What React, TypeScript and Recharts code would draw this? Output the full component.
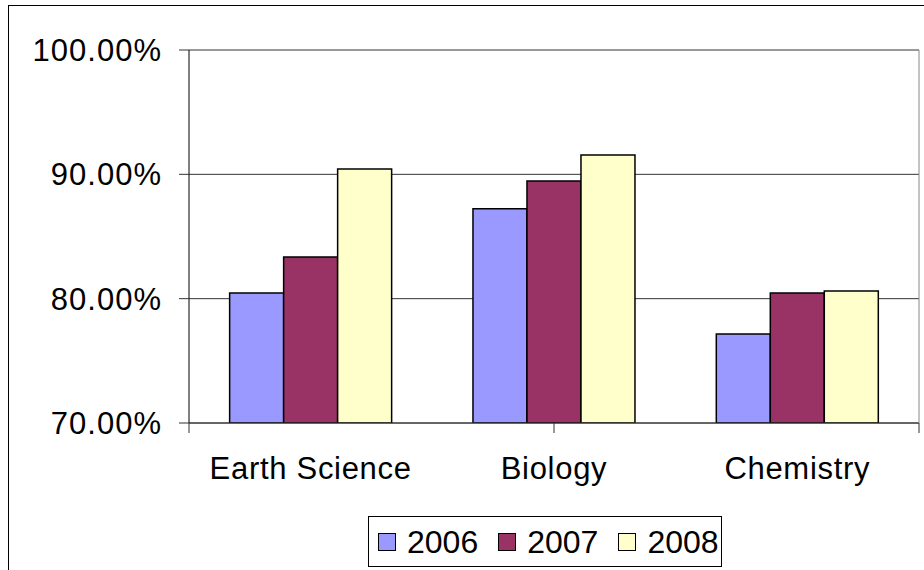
import React from "react";
import { BarChart, Bar, XAxis, YAxis, CartesianGrid, Legend } from "recharts";

const categories = ["Earth Science", "Biology", "Chemistry"];
const series2006 = [80.46, 87.24, 77.16];
const series2007 = [83.35, 89.47, 80.46];
const series2008 = [90.43, 91.56, 80.62];
const yTicks = [70, 80, 90, 100];
const boundaryTicks = [0, 1, 2, 3];
const seriesNames = ["2006", "2007", "2008"];
const seriesColors = ["#9999FF", "#993366", "#FFFFCC"];

const data = categories.map((c, i) => ({
  name: c,
  "2006": series2006[i],
  "2007": series2007[i],
  "2008": series2008[i],
}));

const FONT = "'Liberation Sans', Arial, sans-serif";

const LegendBox = () => (
  <div
    style={{
      border: "1px solid #000",
      background: "#fff",
      display: "flex",
      alignItems: "center",
      height: 49,
      padding: "0 0 0 9px",
      width: 343,
      fontFamily: FONT,
      fontSize: 32,
      color: "#000",
      boxSizing: "content-box",
      overflow: "visible",
    }}
  >
    {seriesNames.map((n, i) => (
      <div
        key={n}
        style={{ display: "flex", alignItems: "center", marginRight: i < seriesNames.length - 1 ? 20 : 0 }}
      >
        <div
          style={{
            width: 16,
            height: 16,
            border: "1px solid #000",
            background: seriesColors[i],
            marginRight: 11,
            flexShrink: 0,
          }}
        />
        <span style={{ lineHeight: "32px", whiteSpace: "nowrap" }}>{n}</span>
      </div>
    ))}
  </div>
);

const EmptyTick = () => <g />;

export default function App() {
  return (
    <div style={{ position: "absolute", left: 0, top: 0, width: 924, height: 570, background: "#fff" }}>
      <div
        style={{
          position: "absolute",
          left: 8,
          top: 5,
          width: 916,
          height: 565,
          borderLeft: "1px solid #000",
          borderTop: "1px solid #000",
          boxSizing: "border-box",
        }}
      />
      <div style={{ position: "absolute", left: 0, top: 0 }}>
        <BarChart
          width={924}
          height={570}
          data={data}
          margin={{ top: 50, right: 0, left: 0, bottom: 35 }}
          barGap={0}
          barCategoryGap="16.7%"
        >
          <CartesianGrid vertical={false} xAxisId="z" stroke="#333" strokeWidth={1} />
          <XAxis
            xAxisId="z"
            dataKey="name"
            height={60}
            axisLine={false}
            tickLine={false}
            tickSize={0}
            tickMargin={33}
            tick={{ fill: "#000", fontSize: 31, fontFamily: FONT, letterSpacing: 0.7 }}
            interval={0}
          />
          <XAxis
            xAxisId="a"
            type="number"
            domain={[0, 3]}
            ticks={boundaryTicks}
            allowDataOverflow
            interval={0}
            height={1}
            tick={EmptyTick}
            tickSize={10}
            axisLine={{ stroke: "#333" }}
            tickLine={{ stroke: "#333" }}
          />
          <YAxis
            width={189}
            domain={[70, 100]}
            ticks={yTicks}
            tickFormatter={(v: number) => v.toFixed(2) + "%"}
            tickSize={10}
            tickMargin={17}
            axisLine={{ stroke: "#000" }}
            tickLine={{ stroke: "#333" }}
            tick={{ fill: "#000", fontSize: 31, fontFamily: FONT, letterSpacing: 1 }}
            allowDataOverflow
          />
          <YAxis
            yAxisId="r"
            orientation="right"
            width={5}
            domain={[70, 100]}
            tick={false}
            tickLine={false}
            axisLine={{ stroke: "#888" }}
          />
          <Legend
            content={() => <LegendBox />}
            wrapperStyle={{ position: "absolute", left: 368, top: 516, width: "auto" }}
          />
          {seriesNames.map((n, i) => (
            <Bar
              key={n}
              xAxisId="z"
              dataKey={n}
              fill={seriesColors[i]}
              stroke="#000"
              strokeWidth={1.5}
              isAnimationActive={false}
            />
          ))}
        </BarChart>
      </div>
    </div>
  );
}
